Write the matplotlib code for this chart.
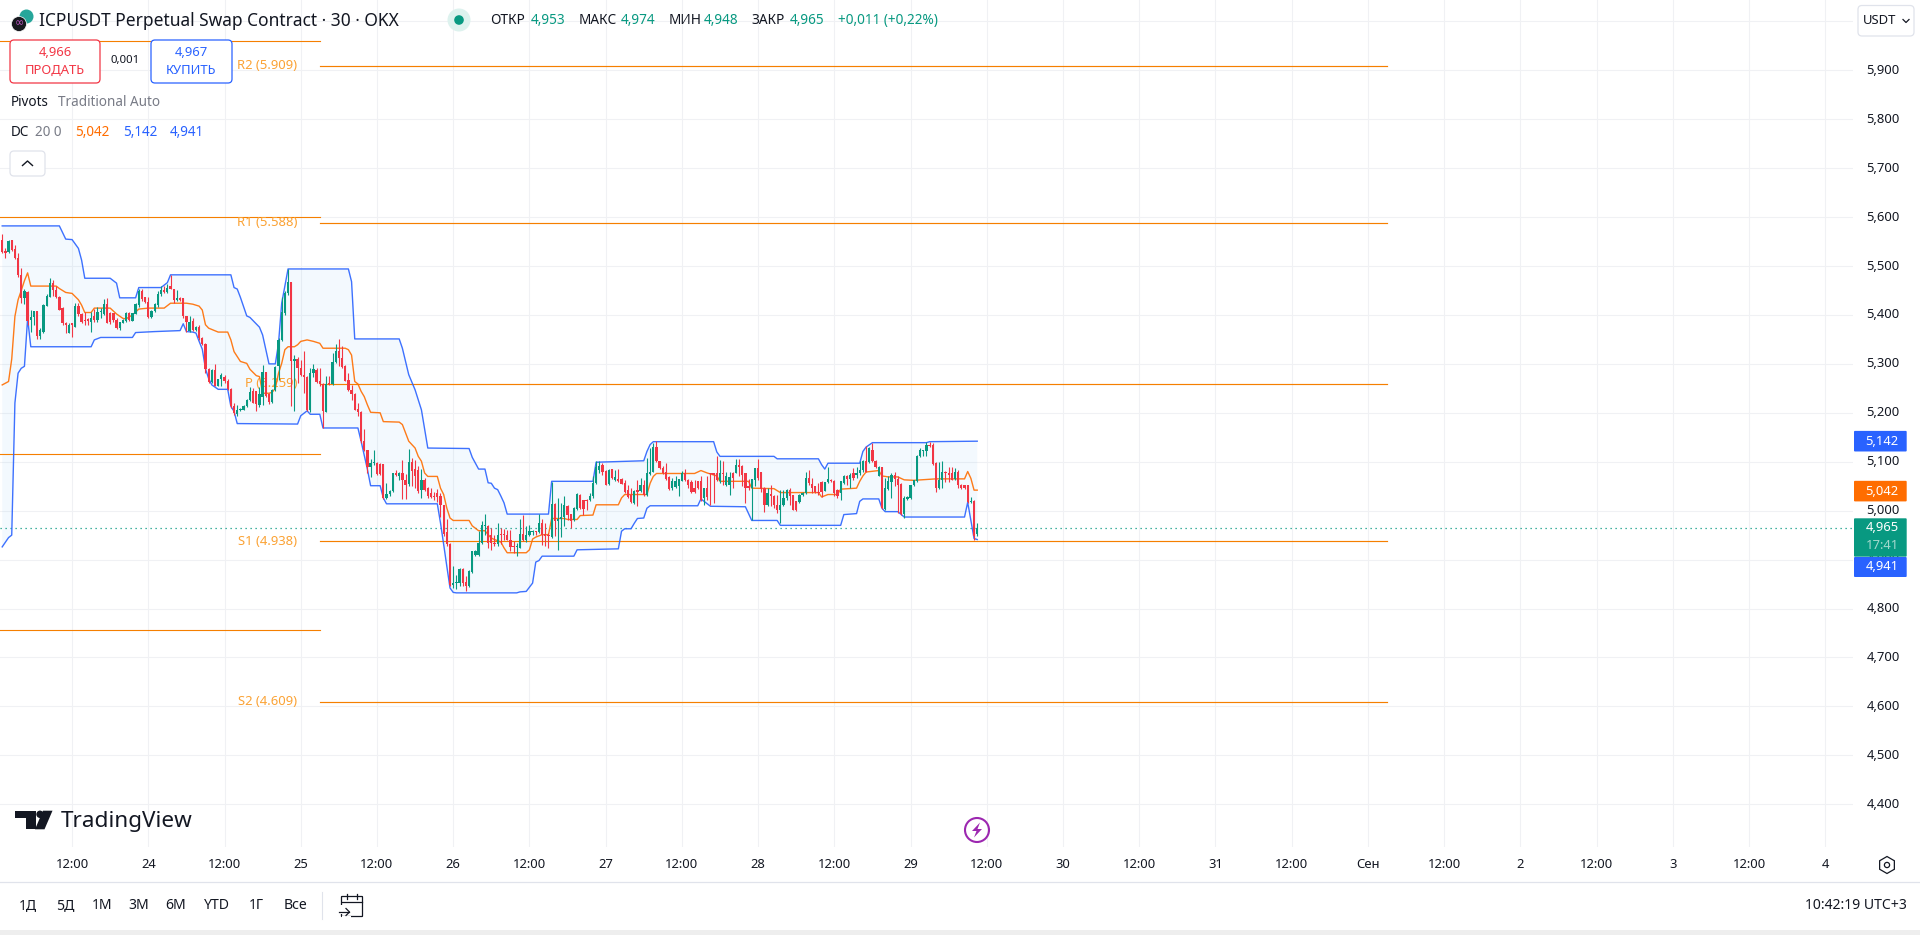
import numpy as np
import matplotlib
matplotlib.use('Agg')
import matplotlib.pyplot as plt
from matplotlib.patches import Circle, FancyBboxPatch, Polygon, RegularPolygon, Rectangle

plt.rcParams['font.family'] = ['Noto Sans', 'DejaVu Sans']

# 30 minute bars, bar 0 is 24 Aug 00:00
FIRST_BAR = -46

opens = [
    5.553, 5.531, 5.529, 5.553, 5.534, 5.516, 5.482, 5.434, 5.446, 5.390,
    5.395, 5.408, 5.356, 5.366, 5.419, 5.437, 5.465, 5.451, 5.436, 5.415,
    5.384, 5.364, 5.383, 5.376, 5.418, 5.402, 5.390, 5.391, 5.386, 5.397,
    5.390, 5.407, 5.402, 5.422, 5.403, 5.403, 5.390, 5.373, 5.384, 5.388,
    5.405, 5.388, 5.402, 5.420, 5.449, 5.436, 5.427, 5.395, 5.408, 5.420,
    5.442, 5.451, 5.446, 5.460, 5.454, 5.431, 5.434, 5.434, 5.397, 5.368,
    5.388, 5.369, 5.375, 5.352, 5.341, 5.289, 5.262, 5.288, 5.255, 5.269,
    5.274, 5.264, 5.249, 5.213, 5.198, 5.205, 5.206, 5.213, 5.227, 5.244,
    5.244, 5.216, 5.233, 5.283, 5.239, 5.223, 5.247, 5.295, 5.349, 5.403,
    5.444, 5.468, 5.305, 5.310, 5.291, 5.278, 5.274, 5.205, 5.281, 5.288,
    5.264, 5.259, 5.202, 5.261, 5.259, 5.303, 5.327, 5.311, 5.296, 5.267,
    5.247, 5.238, 5.208, 5.201, 5.142, 5.123, 5.089, 5.097, 5.097, 5.096,
    5.096, 5.025, 5.034, 5.040, 5.077, 5.071, 5.077, 5.063, 5.055, 5.099,
    5.085, 5.084, 5.043, 5.063, 5.046, 5.037, 5.031, 5.036, 5.029, 5.011,
    4.957, 4.931, 4.848, 4.852, 4.852, 4.881, 4.855, 4.846, 4.875, 4.910,
    4.910, 4.933, 4.968, 4.969, 4.951, 4.934, 4.931, 4.953, 4.953, 4.951,
    4.941, 4.927, 4.925, 4.924, 4.952, 4.940, 4.950, 4.957, 4.958, 4.957,
    4.975, 4.953, 4.951, 4.946, 5.014, 4.978, 4.982, 4.987, 5.010, 4.993,
    4.980, 5.004, 5.033, 5.021, 5.022, 5.022, 5.029, 5.056, 5.084, 5.094,
    5.082, 5.054, 5.085, 5.062, 5.065, 5.065, 5.056, 5.043, 5.033, 5.016,
    5.043, 5.041, 5.053, 5.033, 5.075, 5.080, 5.130, 5.101, 5.088, 5.080,
    5.069, 5.046, 5.048, 5.050, 5.061, 5.077, 5.063, 5.059, 5.046, 5.060,
    5.060, 5.025, 5.046, 5.076, 5.076, 5.077, 5.060, 5.078, 5.053, 5.052,
    5.078, 5.077, 5.094, 5.092, 5.076, 5.050, 5.046, 5.063, 5.087, 5.080,
    5.046, 5.012, 5.035, 5.029, 5.012, 5.002, 5.012, 5.026, 5.043, 5.033,
    5.019, 5.017, 5.032, 5.036, 5.067, 5.055, 5.050, 5.039, 5.058, 5.041,
    5.058, 5.063, 5.061, 5.043, 5.036, 5.056, 5.071, 5.065, 5.077, 5.073,
    5.077, 5.084, 5.102, 5.099, 5.125, 5.101, 5.071, 5.089, 5.003, 5.045,
    5.059, 5.073, 5.065, 5.055, 4.994, 5.024, 5.026, 5.052, 5.060, 5.111,
    5.121, 5.121, 5.135, 5.135, 5.097, 5.046, 5.062, 5.080, 5.078, 5.077,
    5.065, 5.080, 5.053, 5.052, 5.052, 5.017, 5.020, 4.953,
]
highs = [
    5.565, 5.536, 5.553, 5.554, 5.543, 5.526, 5.495, 5.454, 5.448, 5.410,
    5.408, 5.408, 5.373, 5.422, 5.442, 5.475, 5.471, 5.459, 5.439, 5.417,
    5.386, 5.384, 5.384, 5.424, 5.425, 5.403, 5.407, 5.393, 5.407, 5.413,
    5.417, 5.414, 5.432, 5.434, 5.407, 5.405, 5.393, 5.386, 5.391, 5.407,
    5.406, 5.405, 5.424, 5.453, 5.454, 5.437, 5.436, 5.410, 5.424, 5.448,
    5.459, 5.459, 5.463, 5.482, 5.454, 5.452, 5.436, 5.434, 5.398, 5.397,
    5.393, 5.378, 5.380, 5.354, 5.342, 5.291, 5.289, 5.300, 5.270, 5.281,
    5.278, 5.269, 5.250, 5.220, 5.216, 5.209, 5.216, 5.228, 5.252, 5.250,
    5.244, 5.252, 5.298, 5.284, 5.240, 5.248, 5.295, 5.352, 5.437, 5.448,
    5.493, 5.468, 5.318, 5.314, 5.308, 5.327, 5.276, 5.291, 5.300, 5.291,
    5.291, 5.261, 5.276, 5.276, 5.322, 5.341, 5.350, 5.337, 5.297, 5.281,
    5.257, 5.240, 5.220, 5.203, 5.167, 5.125, 5.106, 5.125, 5.099, 5.098,
    5.096, 5.057, 5.042, 5.077, 5.083, 5.080, 5.104, 5.074, 5.126, 5.108,
    5.104, 5.091, 5.085, 5.066, 5.048, 5.046, 5.039, 5.044, 5.036, 5.012,
    4.982, 4.933, 4.886, 4.869, 4.882, 4.882, 4.866, 4.878, 4.918, 4.920,
    4.959, 4.978, 4.993, 4.971, 4.965, 4.951, 4.975, 4.965, 4.963, 4.961,
    4.961, 4.937, 4.934, 4.982, 4.992, 4.969, 4.971, 4.961, 4.959, 4.993,
    4.983, 4.975, 4.954, 5.058, 5.015, 5.026, 5.016, 5.029, 5.012, 4.994,
    5.008, 5.037, 5.035, 5.022, 5.024, 5.037, 5.070, 5.101, 5.101, 5.097,
    5.084, 5.085, 5.085, 5.084, 5.085, 5.066, 5.063, 5.053, 5.046, 5.043,
    5.063, 5.067, 5.062, 5.107, 5.128, 5.139, 5.142, 5.102, 5.092, 5.097,
    5.070, 5.067, 5.070, 5.065, 5.082, 5.085, 5.065, 5.063, 5.063, 5.061,
    5.070, 5.046, 5.070, 5.077, 5.077, 5.111, 5.103, 5.101, 5.080, 5.080,
    5.080, 5.105, 5.105, 5.094, 5.077, 5.065, 5.065, 5.088, 5.105, 5.080,
    5.048, 5.046, 5.053, 5.033, 5.033, 5.043, 5.043, 5.044, 5.046, 5.033,
    5.020, 5.035, 5.039, 5.080, 5.084, 5.067, 5.051, 5.056, 5.060, 5.059,
    5.090, 5.065, 5.063, 5.044, 5.061, 5.073, 5.073, 5.077, 5.087, 5.090,
    5.101, 5.104, 5.133, 5.130, 5.138, 5.103, 5.092, 5.090, 5.067, 5.070,
    5.077, 5.080, 5.070, 5.056, 5.029, 5.031, 5.053, 5.063, 5.114, 5.128,
    5.124, 5.141, 5.141, 5.138, 5.099, 5.099, 5.101, 5.082, 5.090, 5.090,
    5.087, 5.084, 5.055, 5.053, 5.053, 5.028, 5.021, 4.974,
]
lows = [
    5.526, 5.517, 5.526, 5.531, 5.514, 5.478, 5.424, 5.422, 5.380, 5.366,
    5.380, 5.350, 5.350, 5.363, 5.418, 5.436, 5.439, 5.434, 5.410, 5.380,
    5.364, 5.363, 5.354, 5.375, 5.397, 5.384, 5.380, 5.380, 5.366, 5.386,
    5.386, 5.393, 5.400, 5.383, 5.382, 5.386, 5.371, 5.369, 5.383, 5.386,
    5.388, 5.387, 5.401, 5.417, 5.429, 5.425, 5.393, 5.394, 5.407, 5.417,
    5.439, 5.444, 5.444, 5.453, 5.424, 5.429, 5.429, 5.393, 5.366, 5.366,
    5.368, 5.368, 5.349, 5.339, 5.281, 5.261, 5.261, 5.254, 5.254, 5.254,
    5.261, 5.247, 5.210, 5.196, 5.194, 5.204, 5.205, 5.212, 5.225, 5.220,
    5.203, 5.212, 5.216, 5.233, 5.218, 5.220, 5.244, 5.267, 5.346, 5.400,
    5.441, 5.213, 5.203, 5.261, 5.276, 5.240, 5.203, 5.201, 5.274, 5.261,
    5.255, 5.169, 5.201, 5.257, 5.257, 5.301, 5.295, 5.291, 5.265, 5.244,
    5.227, 5.205, 5.193, 5.138, 5.121, 5.077, 5.069, 5.094, 5.072, 5.072,
    5.024, 5.023, 5.031, 5.038, 5.070, 5.063, 5.023, 5.023, 5.050, 5.050,
    5.046, 5.036, 5.025, 5.040, 5.026, 5.026, 5.022, 5.017, 4.988, 4.948,
    4.927, 4.846, 4.842, 4.839, 4.846, 4.846, 4.835, 4.844, 4.873, 4.907,
    4.907, 4.931, 4.951, 4.924, 4.919, 4.927, 4.927, 4.931, 4.941, 4.940,
    4.917, 4.914, 4.907, 4.923, 4.937, 4.935, 4.948, 4.951, 4.951, 4.954,
    4.929, 4.927, 4.924, 4.945, 4.948, 4.920, 4.946, 4.968, 4.980, 4.965,
    4.978, 5.002, 5.003, 4.992, 5.002, 5.019, 5.026, 5.055, 5.077, 5.073,
    5.052, 5.053, 5.065, 5.060, 5.059, 5.054, 5.036, 5.026, 5.016, 5.014,
    5.010, 5.039, 5.031, 5.031, 5.073, 5.079, 5.099, 5.085, 5.075, 5.063,
    5.043, 5.043, 5.046, 5.029, 5.060, 5.060, 5.046, 5.037, 5.036, 5.045,
    5.019, 5.012, 5.021, 5.012, 5.016, 5.060, 5.056, 5.053, 5.050, 5.033,
    5.046, 5.076, 5.070, 5.050, 5.016, 5.043, 4.980, 5.050, 5.063, 5.039,
    4.997, 5.010, 5.009, 5.005, 4.995, 4.975, 5.010, 5.022, 5.012, 5.001,
    5.000, 5.016, 5.031, 5.035, 5.053, 5.036, 5.037, 5.033, 5.028, 5.040,
    5.056, 5.059, 5.029, 5.026, 5.022, 5.055, 5.053, 5.046, 5.063, 5.067,
    5.073, 5.080, 5.079, 5.097, 5.099, 5.087, 5.070, 5.003, 5.002, 5.043,
    5.026, 5.050, 4.995, 4.992, 4.986, 5.022, 5.024, 5.050, 5.059, 5.110,
    5.111, 5.111, 5.130, 5.094, 5.039, 5.044, 5.046, 5.058, 5.058, 5.062,
    5.063, 5.046, 5.044, 5.045, 5.016, 5.016, 4.941, 4.948,
]
closes = [
    5.529, 5.526, 5.552, 5.533, 5.516, 5.482, 5.434, 5.448, 5.388, 5.395,
    5.408, 5.356, 5.369, 5.420, 5.439, 5.465, 5.451, 5.436, 5.410, 5.383,
    5.380, 5.380, 5.380, 5.418, 5.402, 5.386, 5.388, 5.388, 5.393, 5.390,
    5.407, 5.409, 5.422, 5.384, 5.386, 5.390, 5.373, 5.385, 5.390, 5.405,
    5.390, 5.403, 5.422, 5.449, 5.432, 5.427, 5.395, 5.408, 5.422, 5.443,
    5.451, 5.446, 5.456, 5.454, 5.431, 5.434, 5.431, 5.397, 5.386, 5.386,
    5.369, 5.375, 5.352, 5.341, 5.289, 5.262, 5.288, 5.255, 5.269, 5.278,
    5.264, 5.249, 5.213, 5.199, 5.206, 5.208, 5.214, 5.227, 5.242, 5.221,
    5.218, 5.239, 5.284, 5.235, 5.223, 5.247, 5.293, 5.349, 5.407, 5.444,
    5.468, 5.305, 5.310, 5.291, 5.278, 5.273, 5.205, 5.281, 5.290, 5.263,
    5.259, 5.203, 5.259, 5.258, 5.303, 5.327, 5.311, 5.293, 5.266, 5.246,
    5.238, 5.206, 5.201, 5.142, 5.123, 5.089, 5.097, 5.099, 5.074, 5.074,
    5.026, 5.034, 5.040, 5.076, 5.072, 5.076, 5.063, 5.053, 5.099, 5.082,
    5.070, 5.040, 5.063, 5.043, 5.029, 5.028, 5.028, 5.028, 5.011, 4.953,
    4.931, 4.848, 4.852, 4.854, 4.881, 4.852, 4.846, 4.876, 4.917, 4.918,
    4.934, 4.970, 4.971, 4.933, 4.933, 4.931, 4.951, 4.950, 4.950, 4.941,
    4.925, 4.925, 4.927, 4.952, 4.940, 4.951, 4.959, 4.958, 4.957, 4.975,
    4.951, 4.948, 4.948, 5.014, 4.978, 4.983, 4.988, 5.012, 4.991, 4.978,
    5.005, 5.035, 5.005, 5.004, 5.019, 5.031, 5.056, 5.090, 5.092, 5.080,
    5.053, 5.084, 5.067, 5.069, 5.060, 5.055, 5.038, 5.028, 5.018, 5.041,
    5.039, 5.053, 5.033, 5.076, 5.080, 5.130, 5.101, 5.087, 5.077, 5.065,
    5.044, 5.060, 5.061, 5.065, 5.077, 5.062, 5.052, 5.039, 5.039, 5.046,
    5.022, 5.046, 5.027, 5.074, 5.072, 5.063, 5.078, 5.075, 5.070, 5.069,
    5.067, 5.094, 5.090, 5.073, 5.046, 5.046, 5.065, 5.087, 5.067, 5.044,
    5.012, 5.036, 5.029, 5.012, 5.002, 5.012, 5.026, 5.043, 5.031, 5.002,
    5.001, 5.033, 5.037, 5.067, 5.056, 5.046, 5.039, 5.037, 5.039, 5.058,
    5.065, 5.060, 5.037, 5.031, 5.060, 5.071, 5.065, 5.073, 5.067, 5.078,
    5.084, 5.101, 5.080, 5.128, 5.101, 5.090, 5.090, 5.005, 5.046, 5.060,
    5.073, 5.065, 5.053, 4.994, 5.026, 5.028, 5.052, 5.062, 5.112, 5.123,
    5.123, 5.135, 5.132, 5.096, 5.046, 5.063, 5.080, 5.077, 5.073, 5.063,
    5.080, 5.053, 5.046, 5.046, 5.017, 5.019, 4.948, 4.965,
]

# Donchian channel, only the bars where the line changes
dc_upper_bars = [
    -46, -28, -26, -24, -22, -21, -20, -12, -10, -9, -4, -3, 4, 6, 7, 26, 27, 28, 29, 31,
    32, 35, 36, 38, 40, 41, 42, 44, 63, 64, 65, 79, 80, 82, 84, 86, 88, 101, 102, 104,
    106, 107, 108, 109, 110, 111, 112, 113, 126, 127, 140, 141, 156, 157, 158, 159, 178, 179, 180, 197,
    198, 211, 212, 213, 214, 224, 225, 226, 228, 245, 246, 261,
]
dc_upper = [
    5.582, 5.582, 5.555, 5.554, 5.536, 5.512, 5.475, 5.475, 5.465, 5.435, 5.435, 5.456, 5.456, 5.466, 5.482, 5.482, 5.456, 5.453, 5.436, 5.398,
    5.395, 5.375, 5.359, 5.300, 5.300, 5.342, 5.424, 5.494, 5.494, 5.468, 5.351, 5.351, 5.332, 5.278, 5.247, 5.206, 5.128, 5.127, 5.109, 5.085,
    5.085, 5.057, 5.056, 5.046, 5.043, 5.030, 5.016, 4.993, 4.993, 5.060, 5.060, 5.099, 5.102, 5.121, 5.135, 5.141, 5.141, 5.120, 5.111, 5.111,
    5.106, 5.106, 5.094, 5.085, 5.097, 5.097, 5.121, 5.130, 5.139, 5.139, 5.141, 5.142,
]
dc_lower_bars = [
    -46, -44, -43, -42, -41, -40, -39, -38, -37, -18, -17, -15, -5, -4, 2, 10, 11, 12, 14, 15,
    16, 17, 18, 19, 20, 22, 25, 26, 27, 28, 47, 48, 50, 51, 54, 55, 66, 67, 69, 70,
    73, 74, 75, 91, 92, 93, 94, 95, 96, 97, 116, 117, 119, 121, 122, 123, 124, 134, 135, 148,
    149, 150, 152, 153, 154, 156, 157, 158, 173, 174, 177, 188, 190, 198, 199, 218, 219, 223, 224, 225,
    230, 231, 232, 236, 238, 257, 258, 260, 261,
]
dc_lower = [
    4.926, 4.945, 4.950, 5.220, 5.281, 5.291, 5.295, 5.393, 5.335, 5.335, 5.349, 5.354, 5.354, 5.364, 5.366, 5.368, 5.382, 5.366, 5.365, 5.363,
    5.346, 5.330, 5.290, 5.270, 5.257, 5.248, 5.248, 5.213, 5.203, 5.178, 5.177, 5.194, 5.204, 5.197, 5.197, 5.169, 5.169, 5.142, 5.084, 5.051,
    5.051, 5.026, 5.014, 5.014, 4.975, 4.931, 4.886, 4.842, 4.833, 4.832, 4.832, 4.834, 4.835, 4.852, 4.895, 4.898, 4.907, 4.907, 4.920, 4.922,
    4.958, 4.963, 4.963, 4.974, 4.984, 4.985, 5.005, 5.010, 5.010, 5.024, 5.009, 5.008, 4.980, 4.980, 4.970, 4.970, 4.992, 4.994, 5.019, 5.024,
    5.024, 5.005, 4.998, 4.998, 4.987, 4.987, 5.017, 4.943, 4.941,
]
dc_basis_bars = [
    -46, -44, -43, -42, -41, -40, -39, -38, -37, -29, -28, -26, -24, -22, -21, -20, -18, -17, -12, -10,
    -8, -7, -5, -3, 0, 5, 7, 12, 14, 16, 17, 18, 19, 22, 25, 26, 27, 28, 29, 31,
    32, 34, 35, 36, 38, 39, 40, 41, 42, 43, 44, 46, 47, 48, 50, 52, 54, 55, 62, 63,
    64, 65, 66, 67, 68, 69, 70, 73, 74, 79, 80, 82, 84, 85, 86, 87, 88, 91, 92, 93,
    94, 95, 96, 101, 102, 104, 106, 107, 108, 109, 111, 112, 113, 119, 120, 121, 122, 124, 126, 127,
    131, 132, 135, 136, 140, 141, 148, 149, 150, 157, 158, 159, 160, 172, 174, 176, 178, 179, 180, 189,
    190, 197, 199, 211, 212, 214, 217, 218, 223, 224, 225, 226, 230, 231, 233, 236, 238, 241, 248, 257,
    258, 259, 260, 261,
]
dc_basis = [
    5.257, 5.264, 5.310, 5.397, 5.431, 5.450, 5.470, 5.486, 5.459, 5.459, 5.454, 5.446, 5.444, 5.431, 5.420, 5.405, 5.405, 5.414, 5.414, 5.402,
    5.393, 5.392, 5.400, 5.412, 5.414, 5.414, 5.424, 5.424, 5.422, 5.418, 5.410, 5.380, 5.373, 5.365, 5.365, 5.349, 5.325, 5.315, 5.305, 5.301,
    5.289, 5.276, 5.274, 5.240, 5.240, 5.242, 5.250, 5.281, 5.301, 5.329, 5.335, 5.335, 5.339, 5.346, 5.349, 5.346, 5.342, 5.332, 5.332, 5.329,
    5.318, 5.264, 5.259, 5.244, 5.233, 5.216, 5.201, 5.200, 5.182, 5.181, 5.176, 5.142, 5.128, 5.111, 5.101, 5.077, 5.070, 5.070, 5.046, 5.033,
    5.005, 4.985, 4.980, 4.980, 4.969, 4.959, 4.959, 4.951, 4.944, 4.941, 4.936, 4.924, 4.914, 4.914, 4.920, 4.942, 4.946, 4.951, 4.951, 4.984,
    4.984, 4.982, 4.982, 4.990, 4.991, 5.012, 5.012, 5.026, 5.033, 5.033, 5.056, 5.070, 5.076, 5.076, 5.082, 5.077, 5.073, 5.071, 5.060, 5.060,
    5.046, 5.045, 5.037, 5.037, 5.028, 5.033, 5.033, 5.044, 5.046, 5.060, 5.071, 5.079, 5.082, 5.071, 5.069, 5.069, 5.063, 5.062, 5.065, 5.065,
    5.080, 5.066, 5.042, 5.042,
]

# Pivot levels: name, price, first bar, last bar
pivot_names = ['R2', 'R1', 'P', 'S1', 'S2']
pivot_levels = [5.909, 5.588, 5.259, 4.938, 4.609]
previous_levels = [5.960, 5.601, 5.115, 4.757]
pivot_start = 54
pivot_end = 390

price_ticks = [4.4, 4.5, 4.6, 4.7, 4.8, 4.9, 5.0, 5.1, 5.2, 5.3, 5.4, 5.5, 5.6, 5.7, 5.8, 5.9]
time_ticks = [-24, 0, 24, 48, 72, 96, 120, 144, 168, 192, 216, 240, 264, 288, 312, 336, 360, 384, 408, 432, 456, 480, 504, 528]
time_labels = ['12:00', '24', '12:00', '25', '12:00', '26', '12:00', '27', '12:00', '28', '12:00', '29',
               '12:00', '30', '12:00', '31', '12:00', 'Сен', '12:00', '2', '12:00', '3', '12:00', '4']
range_buttons = ['1Д', '5Д', '1М', '3М', '6М', 'YTD', '1Г', 'Все']

RED = '#f23645'
GREEN = '#089981'
BLUE = '#2962ff'
ORANGE = '#ff6d00'
PIVOT = '#f57f00'
PIVOT_TEXT = '#fba234'
INK = '#131722'
GRAY = '#787b86'
GRID = '#f0f1f4'
RULE = '#e0e3eb'

W, H = 1920, 935
PANE_W, PANE_H = 1853, 847
BAR_PX = 3.176
BAR0_PX = 148.3
PRICE_PX = 489.3
P59_PX = 70.3


def comma(v):
    return f'{v:.3f}'.replace('.', ',')


def price_y(p):
    return P59_PX + (5.9 - p) * PRICE_PX


fig = plt.figure(figsize=(W / 100, H / 100), dpi=100, facecolor='white')

# ----------------------------------------------------
# price pane
# ----------------------------------------------------

ax = fig.add_axes([0, 1 - PANE_H / H, PANE_W / W, PANE_H / H])
ax.set_xlim((0 - BAR0_PX) / BAR_PX, (PANE_W - BAR0_PX) / BAR_PX)
ax.set_ylim(5.9 - (PANE_H - P59_PX) / PRICE_PX, 5.9 + P59_PX / PRICE_PX)

for s in ax.spines.values():
    s.set_visible(False)
ax.set_axisbelow(True)
ax.set_xticks(time_ticks)
ax.set_xticklabels([])
ax.set_yticks(price_ticks + [6.0])
ax.set_yticklabels([])
ax.tick_params(length=0)
ax.grid(True, color=GRID, linewidth=0.8)

for level in previous_levels:
    ax.plot([(0 - BAR0_PX) / BAR_PX, pivot_start], [level, level], color=PIVOT, lw=0.8, zorder=2)
for name, level in zip(pivot_names, pivot_levels):
    ax.plot([pivot_start, pivot_end], [level, level], color=PIVOT, lw=0.85, zorder=2)
    ax.text(pivot_start - 7, level, f'{name} ({level:.3f})', color=PIVOT_TEXT, fontsize=9.4,
            ha='right', va='center', zorder=2)

ax.fill(np.r_[dc_upper_bars, dc_lower_bars[::-1]], np.r_[dc_upper, dc_lower[::-1]],
        color='#2196f3', alpha=0.05, lw=0, zorder=1)
ax.plot(dc_upper_bars, dc_upper, color=BLUE, lw=1.0, alpha=0.9, zorder=3)
ax.plot(dc_lower_bars, dc_lower, color=BLUE, lw=1.0, alpha=0.9, zorder=3)
ax.plot(dc_basis_bars, dc_basis, color=ORANGE, lw=1.0, alpha=0.9, zorder=3)

ax.axhline(closes[-1], color=GREEN, lw=0.9, ls=(0, (1, 3)), zorder=2)

bars = np.arange(FIRST_BAR, FIRST_BAR + len(closes))
o, h, l, c = map(np.array, (opens, highs, lows, closes))
colors = np.where(c >= o, GREEN, RED)
ax.vlines(bars, l, h, colors=colors, lw=0.8, zorder=4)
ax.bar(bars, np.maximum(np.abs(c - o), 0.001), bottom=np.minimum(o, c), width=0.72,
       color=colors, linewidth=0, zorder=5)

# ----------------------------------------------------
# everything around the pane, laid out in screen pixels
# ----------------------------------------------------

ui = fig.add_axes([0, 0, 1, 1], facecolor='none')
ui.set_xlim(0, W)
ui.set_ylim(H, 0)
ui.axis('off')


def label(x, y, s, size=13, color=INK, ha='left', weight='normal', **kw):
    return ui.text(x, y, s, fontsize=size * 0.72, color=color, ha=ha, va='center',
                   fontweight=weight, **kw)


def button(x0, y0, x1, y1, edge, face='white', radius=4, lw=0.9):
    ui.add_patch(FancyBboxPatch((x0 + radius, y0 + radius), x1 - x0 - 2 * radius, y1 - y0 - 2 * radius,
                                boxstyle=f'round,pad={radius}', fc=face, ec=edge, lw=lw, zorder=6))


# price scale
for p in price_ticks:
    label(1883, price_y(p), comma(p), ha='center')
for t, s in zip(time_ticks, time_labels):
    label(BAR0_PX + t * BAR_PX, 865, s, ha='center', weight='bold' if s == 'Сен' else 'normal')


def price_box(y0, y1, color, text):
    ui.add_patch(FancyBboxPatch((1855, y0 + 1), 50.7, y1 - y0 - 2, boxstyle='round,pad=1',
                                fc=color, ec='none', zorder=7))
    label(1882, (y0 + y1) / 2, text, color='white', ha='center', zorder=8)


upper_y = price_y(dc_upper[-1])
price_box(upper_y - 10.3, upper_y + 10.3, BLUE, comma(dc_upper[-1]))
basis_y = price_y(dc_basis[-1])
price_box(basis_y - 9.3, basis_y + 11.3, ORANGE, comma(dc_basis[-1]))
price_box(518.3, 556.7, GREEN, comma(closes[-1]))
ui.texts[-1].set_position((1882, 527.7))
label(1882, 545.7, '17:41', color='#a3d8cd', ha='center', zorder=8)
price_box(557, 577, BLUE, comma(dc_lower[-1]))

ui.add_patch(RegularPolygon((1887, 865), 6, radius=8.5, orientation=np.pi / 6 + np.pi / 6, fill=False,
                            ec=INK, lw=0.9))
ui.add_patch(Circle((1887, 865), 2.6, fill=False, ec=INK, lw=0.9))

button(1858, 5.5, 1914, 36, RULE)
label(1880, 21, 'USDT', ha='center', zorder=8)
ui.plot([1903, 1906, 1909], [19.5, 22.5, 19.5], color=INK, lw=0.9, zorder=8)

# header
ui.add_patch(Circle((26.5, 16.5), 7, fc='#26a69a', ec='none', zorder=6))
ui.add_patch(Circle((19, 24), 7.5, fc='#17191f', ec='white', lw=0.5, zorder=7))
label(19, 23.5, '∞', size=11, color='#c257c9', ha='center', zorder=8)
label(39, 20.5, 'ICPUSDT Perpetual Swap Contract · 30 · OKX', size=17.4)
ui.add_patch(Circle((459, 20), 11.5, fc='#ddf2ee', ec='none'))
ui.add_patch(Circle((459, 20), 4.8, fc=GREEN, ec='none'))

for x, s in zip([490, 579, 669, 751.7], ['ОТКР', 'МАКС', 'МИН', 'ЗАКР']):
    label(x, 20.7, s, size=13.6)
for x, v in zip([530.7, 621, 703.7, 790], [opens[-1], highs[-1], lows[-1], closes[-1]]):
    label(x, 20.7, comma(v), size=13.6, color=GREEN)
label(838, 20.7, '+0,011 (+0,22%)', size=13.6, color=GREEN)

# order buttons
button(10, 40, 100, 83, RED)
button(151, 40, 232, 83, BLUE)
label(55, 52.5, '4,966', color=RED, ha='center', weight='bold', zorder=8)
label(55, 70, 'ПРОДАТЬ', color=RED, ha='center', zorder=8)
label(125, 61, '0,001', size=11.5, ha='center', zorder=8)
label(191, 52.5, '4,967', color=BLUE, ha='center', weight='bold', zorder=8)
label(191, 70, 'КУПИТЬ', color=BLUE, ha='center', zorder=8)

# indicator legend
label(11, 102.7, 'Pivots', size=13.5)
label(58, 102.7, 'Traditional Auto', size=13.5, color=GRAY)
label(11, 133, 'DC', size=13.5)
label(35, 133, '20 0', size=13.5, color=GRAY)
label(75, 133, comma(dc_basis[-1]), size=13.5, color=ORANGE)
label(123, 133, comma(dc_upper[-1]), size=13.5, color=BLUE)
label(170, 133, comma(dc_lower[-1]), size=13.5, color=BLUE)
button(10, 151, 45, 176, RULE)
ui.plot([22.5, 27.5, 32.5], [165.5, 161, 165.5], color=INK, lw=1.0, zorder=8)

# watermark
ui.add_patch(Polygon([(15, 810.7), (36, 810.7), (36, 829.3), (26, 829.3), (26, 818), (15, 818)],
                     fc=INK, ec='none'))
ui.add_patch(Circle((40, 814.3), 3.7, fc=INK, ec='none'))
ui.add_patch(Polygon([(43, 810.7), (52.5, 810.7), (44.5, 829.3), (35, 829.3)], fc=INK, ec='none'))
label(61, 821, 'TradingView', size=22.5, weight='bold')

# replay marker
ui.add_patch(Circle((977, 830), 12, fill=False, ec='#9c27b0', lw=1.5))
ui.add_patch(Polygon([(980, 822.5), (972, 831), (976.5, 831), (974, 837.5), (982, 829), (977.5, 829)],
                     fc='#9c27b0', ec='none'))

# bottom toolbar
ui.plot([0, W], [881.7, 881.7], color=RULE, lw=0.9)
for x, s in zip([28, 65, 102, 139, 176, 217, 256, 295], range_buttons):
    label(x, 905.7, s, size=14, ha='center')
ui.plot([322, 322], [892, 919], color=RULE, lw=0.8)

ui.add_patch(FancyBboxPatch((342, 897), 20, 19, boxstyle='round,pad=0.5', fill=False, ec=INK, lw=0.9))
ui.add_patch(Rectangle((339, 905), 9, 9, fc='white', ec='none', zorder=3))
ui.add_patch(Rectangle((342, 916), 9, 3, fc='white', ec='none', zorder=3))
ui.plot([342, 362], [902, 902], color=INK, lw=0.9, zorder=4)
ui.plot([347, 347], [894, 899], color=INK, lw=0.9, zorder=4)
ui.plot([357, 357], [894, 899], color=INK, lw=0.9, zorder=4)
ui.plot([339, 349], [912, 912], color=INK, lw=0.9, zorder=4)
ui.plot([346, 349.5, 346], [908.5, 912, 915.5], color=INK, lw=0.9, zorder=4)

label(1907, 905.3, '10:42:19 UTC+3', size=14, ha='right')
ui.add_patch(Rectangle((0, 930), W, 5, fc='#eeeeee', ec='none'))

fig.savefig('out.png', dpi=100)
plt.close(fig)
